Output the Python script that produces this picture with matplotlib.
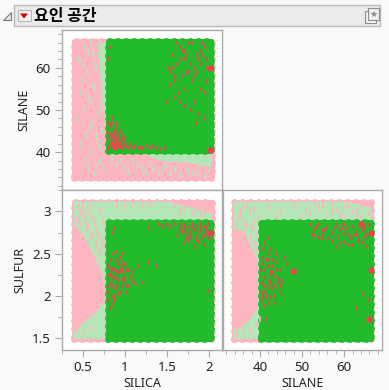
import matplotlib
matplotlib.use('Agg')
import matplotlib.pyplot as plt
from matplotlib.patches import Rectangle, Polygon
from matplotlib.ticker import MultipleLocator

plt.rcParams['font.family'] = ['Noto Sans', 'Noto Sans CJK KR', 'DejaVu Sans']

PINK = '#fdb6c0'
PALE = '#b5e6b8'
GREEN = '#22bb2c'
RED = '#f2404f'
FRAME = '#a9a9a9'

title = '요인 공간'
silica_ticks = [0.5, 1, 1.5, 2]
silica_labels = ['0.5', '1', '1.5', '2']
silane_ticks = [40, 50, 60]
silane_labels = ['40', '50', '60']
sulfur_ticks = [1.5, 2, 2.5, 3]
sulfur_labels = ['1.5', '2', '2.5', '3']

# extents of the clouds
silica_all = [0.387, 2.03]
silane_all = [33.8, 66.4]
sulfur_all = [1.49, 3.117]
silica_ok = [0.80, 2.02]
silane_ok = [40.35, 66.3]
sulfur_ok = [1.486, 2.875]

# silica / silane panel
pale1_x = [0.68, 0.78, 0.78, 0.74]
pale1_y = [66, 66, 48, 50]
band1_x = [1.2, 2.03, 2.03, 1.75, 1.4]
band1_y = [40, 40, 36.5, 37.5, 38]
speck1_x = [0.45, 0.5, 0.56, 0.6, 0.66, 0.43, 0.52, 0.58, 0.64, 0.7, 0.48, 0.55, 0.62, 0.68, 0.73,
            0.47, 0.53, 0.6, 0.66, 0.72, 0.5, 0.57, 0.63, 0.7, 0.75, 0.55, 0.62, 0.68, 0.9, 1.0,
            1.1, 1.2, 1.3, 1.4, 1.5, 1.6, 1.7, 1.8, 1.9, 2.0, 1.05, 1.25, 1.45, 1.65, 1.85, 0.72, 0.66,
            0.52, 0.59, 0.64, 0.69, 0.74, 0.57, 0.62, 0.67, 0.71, 0.76, 0.85, 0.95, 1.15, 1.35, 1.55, 1.75, 1.95]
speck1_y = [62, 57, 64, 52, 60, 48, 50, 46, 55, 58, 42, 44, 47, 42, 45,
            54, 38, 40, 37, 41, 61, 36, 35, 38, 36, 59, 63, 49, 37, 36,
            38, 36, 37, 35, 37, 36, 38, 35, 37, 36, 35, 35, 36, 34.5, 35, 52, 44,
            65, 66, 61, 63, 60, 53, 56, 43, 50, 47, 38.5, 38, 37, 36, 35, 35.5, 34.5]
red1_x = [0.8, 0.82, 0.84, 0.87, 0.9, 0.93, 0.96, 0.99, 1.02, 1.06, 0.81, 0.84, 0.88, 0.91, 0.95,
          0.98, 0.83, 0.86, 0.9, 0.94, 1.12, 1.18, 1.26, 1.3, 1.38, 0.86, 0.81, 0.8, 0.92, 1.0,
          1.52, 1.57, 1.62, 1.66, 1.7, 1.76, 1.8, 1.84, 1.9, 1.94, 1.98, 1.53, 1.58, 1.64, 1.7, 1.74,
          1.8, 1.86, 1.91, 1.97, 1.6, 1.67, 1.72, 1.78, 1.83, 1.88, 1.95, 1.62, 1.69, 1.76, 1.82, 1.9,
          1.5, 1.55, 1.84, 1.95, 0.82, 0.8,
          0.81, 0.83, 0.85, 0.87, 0.89, 0.91, 0.93, 0.95, 0.97, 1.0, 1.03, 0.82, 0.84, 0.86, 0.88, 0.9,
          0.92, 0.94, 0.85, 0.87, 0.89, 1.08, 1.15, 1.22, 1.33, 1.42, 1.48,
          1.6, 1.65, 1.72, 1.78, 1.82, 1.87, 1.92, 1.96, 1.74, 1.68, 1.56, 1.93]
red1_y = [47, 44, 42, 45, 43, 42, 44, 42, 41.5, 42, 41, 41, 41, 41, 41,
          41, 46, 48, 46, 45, 41.5, 41, 41.5, 41, 41, 43, 43, 41, 43, 43,
          60, 63, 61, 65, 62, 59, 66, 63, 61, 65, 62, 56, 57, 54, 55, 59,
          57, 59, 55, 57, 53, 52, 51, 50, 52, 49, 54, 66, 64, 66, 60, 64,
          52, 59, 47, 48, 65, 62,
          44.5, 46.5, 44, 43, 44.5, 42.5, 43.5, 42.5, 43, 42, 41, 42, 42.5, 41.5, 42, 41.5,
          41.5, 41.5, 47, 44, 47, 41, 41, 41, 41.5, 40.8, 41,
          58, 62, 64, 61, 58, 62, 66, 60, 63, 58, 60, 63]
big1_x = [2.01, 2.01]
big1_y = [40.6, 60]

# silica / sulfur panel
band2_x = [0.39, 0.39, 1.5, 1.9, 2.03, 2.03, 0.76, 0.76, 0.6, 0.39]
band2_y = [1.49, 3.117, 3.117, 3.02, 2.98, 2.875, 2.875, 1.49, 1.49, 1.49]
core2_x = [0.387, 0.387, 0.42, 0.5, 0.62, 0.73, 0.76, 0.76, 0.73, 0.6, 0.5, 0.42]
core2_y = [1.6, 2.85, 2.82, 2.72, 2.5, 2.26, 2.1, 1.95, 1.9, 1.75, 1.68, 1.58]
speck2_x = [0.45, 0.52, 0.58, 0.64, 0.7, 0.5, 0.56, 0.62, 0.68, 0.74, 0.55, 0.6, 0.66, 0.72, 0.48,
            0.44, 0.5, 0.56, 0.9, 1.0, 1.1, 1.2, 1.75, 1.85, 1.95, 0.42, 0.5, 0.6, 1.3, 1.6,
            0.42, 0.47, 0.53, 0.61, 0.67, 0.72, 0.75, 0.7, 0.65, 1.65, 1.7, 1.8, 1.9, 2.0]
speck2_y = [2.9, 2.95, 3.05, 2.85, 3.0, 3.08, 2.82, 2.92, 2.72, 2.88, 2.78, 2.68, 2.62, 2.55, 2.98,
            3.05, 3.0, 2.98, 3.08, 3.05, 3.09, 3.06, 3.06, 3.02, 2.98, 1.6, 1.55, 1.62, 3.08, 3.08,
            2.9, 2.85, 2.85, 2.72, 2.78, 2.66, 2.6, 2.5, 2.58, 3.0, 3.04, 2.98, 2.96, 3.02]
red2_x = [0.8, 0.82, 0.85, 0.88, 0.9, 0.93, 0.96, 0.99, 1.02, 1.06, 1.1, 0.81, 0.84, 0.87, 0.91,
          0.95, 0.98, 1.02, 0.8, 0.83, 0.86, 0.9, 0.94, 0.97, 1.0, 1.04, 0.84, 0.88, 0.92, 1.15, 1.22,
          1.28, 1.38, 0.82, 0.86, 1.28, 1.4, 1.45, 1.5, 1.55, 1.6, 1.65, 1.7, 1.75, 1.8, 1.85, 1.9,
          1.95, 2.0, 1.62, 1.68, 1.73, 1.78, 1.84, 1.9, 1.96, 1.7, 1.76, 1.82, 1.88, 1.94, 2.0, 1.99, 0.88,
          0.8, 0.83, 0.85, 0.87, 0.89, 0.92, 0.94, 0.96, 0.98, 1.01, 1.05, 1.08, 0.82, 0.86, 0.89, 0.93,
          0.97, 1.0, 1.12, 0.81, 0.84, 0.9, 1.67, 1.71, 1.74, 1.79, 1.83, 1.87, 1.92, 1.97, 1.66, 1.72,
          1.77, 1.81, 1.86, 1.91, 1.95, 1.98]
red2_y = [2.25, 2.15, 2.3, 2.2, 2.42, 2.28, 2.38, 2.18, 2.3, 2.22, 2.28, 2.05, 2.1, 2.0, 2.12,
          2.05, 2.2, 2.05, 2.35, 2.42, 2.5, 2.52, 2.45, 2.5, 2.38, 2.12, 1.9, 1.95, 2.02, 2.35, 2.15,
          2.4, 2.35, 1.85, 2.75, 2.8, 2.85, 2.83, 2.84, 2.82, 2.85, 2.8, 2.84, 2.82, 2.85, 2.83, 2.85,
          2.82, 2.85, 2.72, 2.74, 2.68, 2.76, 2.7, 2.78, 2.74, 2.62, 2.65, 2.58, 2.64, 2.6, 2.68, 2.06, 2.8,
          2.12, 2.25, 2.12, 2.32, 2.28, 2.18, 2.3, 2.12, 2.32, 2.12, 2.3, 2.18, 2.32, 2.22, 2.08, 2.38,
          2.28, 2.22, 2.15, 1.95, 1.98, 2.22, 2.78, 2.82, 2.72, 2.68, 2.78, 2.74, 2.68, 2.8, 2.84, 2.78,
          2.72, 2.82, 2.66, 2.82, 2.72, 2.78]
big2_x = [2.01]
big2_y = [2.75]

# silane / sulfur panel
band3_x = [33.8, 33.8, 60, 66.4, 66.4, 39.8, 39.8, 36, 33.8]
band3_y = [1.49, 3.117, 3.117, 3.05, 2.875, 2.875, 1.49, 1.49, 1.49]
core3_x = [33.8, 33.8, 36.0, 37.8, 39.5, 39.5, 37.5, 35.5, 34.2]
core3_y = [1.62, 2.78, 2.78, 2.6, 2.4, 1.85, 1.72, 1.62, 1.6]
speck3_x = [35, 36.5, 37.5, 38.5, 39.5, 36, 37, 38.2, 39.2, 37.8, 38.8, 39.4, 42, 45, 48, 51, 54, 57,
            60, 63, 34.5, 36, 37.5, 39, 40, 35.5, 37, 38.5, 44, 50,
            52, 54, 56, 58, 60, 62, 64, 66, 53, 55, 57, 59, 61, 63, 65, 34.5, 35.5]
speck3_y = [2.95, 2.85, 3.0, 2.88, 2.95, 3.05, 2.83, 2.8, 2.72, 2.7, 2.62, 2.55, 3.05, 3.0, 3.06, 3.02,
            3.07, 3.0, 3.05, 3.02, 1.55, 1.6, 1.58, 1.66, 1.72, 3.0, 3.08, 3.03, 2.93, 2.93,
            2.98, 3.04, 2.94, 3.02, 2.94, 3.0, 2.92, 2.98, 3.1, 3.08, 3.1, 2.95, 3.08, 2.95, 3.05, 2.85, 2.95]
red3_x = [40.3, 40.8, 41.3, 41.9, 42.5, 43, 43.7, 44.4, 45, 45.8, 46.5, 40.5, 41, 41.6, 42.2,
          42.9, 43.5, 44.2, 45, 40.5, 41.2, 41.8, 42.5, 43.2, 44, 40.4, 41, 41.8, 42.6, 43.5, 41.5, 42.2,
          52, 53, 54, 55, 56, 57, 58, 59, 60, 61, 62, 63, 64, 65, 66, 52.5, 54, 55.5, 57, 58.5,
          60, 61.5, 63, 64.5, 58, 60, 62, 63.5, 65, 65.5, 64.5, 63, 65.8,
          40.6, 41.1, 41.7, 42.3, 42.8, 43.3, 44, 44.7, 45.3, 40.7, 41.3, 41.9, 42.7, 43.4, 40.6, 41.4, 42.1,
          52.8, 53.6, 55, 56.4, 57.6, 59.4, 60.6, 62.4, 63.6, 64.4, 65.4, 61, 59, 55]
red3_y = [2.3, 2.45, 2.22, 2.35, 2.15, 2.28, 2.4, 2.2, 2.3, 2.45, 2.38, 2.05, 2.12, 2.0, 2.18,
          2.08, 2.0, 2.15, 2.05, 2.55, 2.62, 2.5, 2.55, 2.42, 2.5, 1.95, 1.88, 1.92, 1.98, 1.92, 1.72, 2.68,
          2.84, 2.78, 2.85, 2.72, 2.82, 2.75, 2.84, 2.78, 2.85, 2.72, 2.82, 2.75, 2.85, 2.8, 2.84, 2.72, 2.68,
          2.78, 2.65, 2.7, 2.62, 2.68, 2.72, 2.62, 2.58, 2.75, 2.6, 2.66, 2.7, 2.58, 2.02, 1.85, 1.95,
          2.38, 2.3, 2.42, 2.28, 2.35, 2.12, 2.3, 2.12, 2.18, 2.15, 2.05, 2.1, 2.25, 2.22, 2.0, 1.98, 2.42,
          2.72, 2.82, 2.78, 2.68, 2.8, 2.82, 2.8, 2.72, 2.65, 2.78, 2.72, 2.6, 2.62, 2.68]
big3_x = [47.8, 66.3, 66.3, 64, 65.8]
big3_y = [2.29, 2.3, 2.75, 2.85, 1.72]


def box(x, y):
    return [x[0], x[1], x[1], x[0], x[0]], [y[0], y[0], y[1], y[1], y[0]]


def cloud(ax, xs, ys, color, rim=True):
    # solid body, then a dotted rim of the same colour for the bumpy edge
    ax.fill(xs, ys, color=color, lw=0, zorder=2)
    if rim:
        ax.plot(xs, ys, color=color, lw=5, ls=(0, (0.01, 1.15)), dash_capstyle='round', zorder=2)
        ax.plot(xs, ys, color=color, lw=3.6, zorder=2)


def panel(px, x_all, y_all, xlim, ylim):
    l, t, r, b = px
    ax = fig.add_axes([l / W, 1 - b / H, (r - l) / W, (b - t) / H])
    ax.set_xlim(xlim)
    ax.set_ylim(ylim)
    ax.set_facecolor('white')
    for s in ax.spines.values():
        s.set_color(FRAME)
        s.set_linewidth(1)
    cloud(ax, *box(x_all, y_all), PINK)
    ax.tick_params(which='both', color=FRAME, labelsize=9.6, labelcolor='#222222', pad=3)
    ax.tick_params(which='major', length=5)
    ax.tick_params(which='minor', length=3)
    return ax


W, H = 389, 390
fig = plt.figure(figsize=(W / 100, H / 100), dpi=100, facecolor='#f9f9f9')

# header strip
fig.add_artist(Rectangle((13.5 / W, 1 - 26 / H), 366 / W, 21 / H, transform=fig.transFigure,
                         fc='#ebebeb', ec='#b9b9b9', lw=1))
fig.add_artist(Polygon([(3 / W, 1 - 19.5 / H), (11 / W, 1 - 19.5 / H), (11 / W, 1 - 11.5 / H)],
                       transform=fig.transFigure, fc='#e8e8e8', ec='#777777', lw=0.8))
fig.add_artist(Rectangle((17.5 / W, 1 - 21 / H), 13 / W, 11 / H, transform=fig.transFigure,
                         fc='#f2f2f2', ec='#b5b5b5', lw=0.8))
fig.add_artist(Polygon([(20 / W, 1 - 13.5 / H), (28 / W, 1 - 13.5 / H), (24 / W, 1 - 18.5 / H)],
                       transform=fig.transFigure, fc='#d40000', ec='none'))
fig.text(33.5 / W, 1 - 15.5 / H, title, fontsize=11.5, fontweight='bold', color='black', va='center',
         family=['Noto Sans CJK KR', 'DejaVu Sans'])
fig.add_artist(Rectangle((365 / W, 1 - 23 / H), 11 / W, 12 / H, transform=fig.transFigure,
                         fc='#f4f4f4', ec='#8c8c8c', lw=0.8))
fig.add_artist(Rectangle((368 / W, 1 - 20 / H), 11 / W, 12 / H, transform=fig.transFigure,
                         fc='#efefef', ec='#8c8c8c', lw=0.8))
fig.text(373.5 / W, 1 - 14.5 / H, '★', fontsize=6.5, color='#8c8c8c', ha='center', va='center',
         family='DejaVu Sans')

# SILANE by SILICA
ax1 = panel((62, 30, 222, 190), silica_all, silane_all, (0.25, 2.155), (31.0, 69.0))
cloud(ax1, pale1_x + pale1_x[:1], pale1_y + pale1_y[:1], PALE, rim=False)
cloud(ax1, band1_x + band1_x[:1], band1_y + band1_y[:1], PALE, rim=False)
ax1.plot(speck1_x, speck1_y, ls='none', marker='|', ms=4, mew=1.2, color=PALE, zorder=2.1)
cloud(ax1, *box(silica_ok, silane_ok), GREEN)
ax1.plot(red1_x, red1_y, ls='none', marker='|', ms=3.5, mew=1.2, color=RED, zorder=3)
ax1.plot(big1_x, big1_y, ls='none', marker='o', ms=4.5, color=RED, mew=0, zorder=3)
ax1.set_xticks([])
ax1.set_yticks(silane_ticks, silane_labels)
ax1.yaxis.set_minor_locator(MultipleLocator(2))
ax1.set_ylabel('SILANE', fontsize=9, color='#222222', labelpad=4)

# SULFUR by SILICA
ax2 = panel((62, 190, 222, 350), silica_all, sulfur_all, (0.25, 2.155), (1.357, 3.254))
cloud(ax2, band2_x, band2_y, PALE, rim=False)
cloud(ax2, core2_x + core2_x[:1], core2_y + core2_y[:1], PINK, rim=False)
ax2.plot(speck2_x, speck2_y, ls='none', marker='|', ms=4, mew=1.2, color=PINK, zorder=2.1)
cloud(ax2, *box(silica_ok, sulfur_ok), GREEN)
ax2.plot(red2_x, red2_y, ls='none', marker='|', ms=3.5, mew=1.2, color=RED, zorder=3)
ax2.plot(big2_x, big2_y, ls='none', marker='o', ms=4.5, color=RED, mew=0, zorder=3)
ax2.set_xticks(silica_ticks, silica_labels)
ax2.xaxis.set_minor_locator(MultipleLocator(0.25))
ax2.set_yticks(sulfur_ticks, sulfur_labels)
ax2.yaxis.set_minor_locator(MultipleLocator(0.25))
ax2.set_xlabel('SILICA', fontsize=9, color='#222222', labelpad=2)
ax2.set_ylabel('SULFUR', fontsize=9, color='#222222', labelpad=4)

# SULFUR by SILANE
ax3 = panel((223, 190, 382, 350), silane_all, sulfur_all, (31.2, 69.0), (1.357, 3.254))
cloud(ax3, band3_x, band3_y, PALE, rim=False)
cloud(ax3, core3_x + core3_x[:1], core3_y + core3_y[:1], PINK, rim=False)
ax3.plot(speck3_x, speck3_y, ls='none', marker='|', ms=4, mew=1.2, color=PINK, zorder=2.1)
cloud(ax3, *box([40.3, 66.3], sulfur_ok), GREEN)
ax3.plot(red3_x, red3_y, ls='none', marker='|', ms=3.5, mew=1.2, color=RED, zorder=3)
ax3.plot(big3_x, big3_y, ls='none', marker='o', ms=4.5, color=RED, mew=0, zorder=3)
ax3.set_xticks(silane_ticks, silane_labels)
ax3.xaxis.set_minor_locator(MultipleLocator(2))
ax3.set_yticks([])
ax3.set_xlabel('SILANE', fontsize=9, color='#222222', labelpad=2)

fig.savefig('out.png', dpi=100, facecolor=fig.get_facecolor())
